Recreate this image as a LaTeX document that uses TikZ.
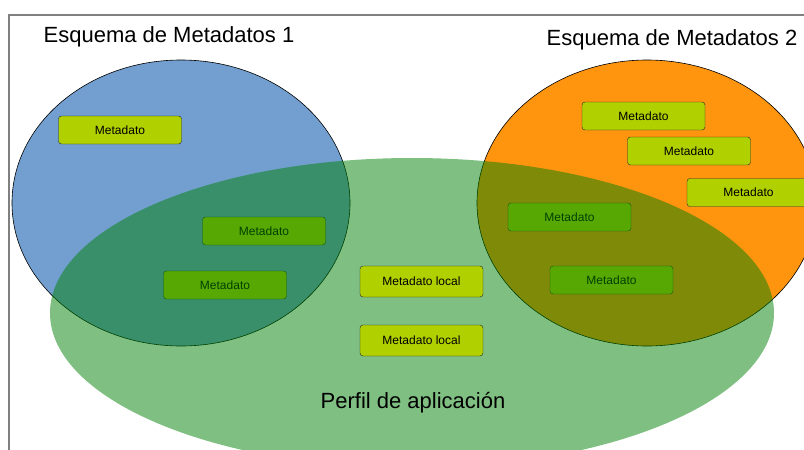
\documentclass[tikz,border=0pt]{standalone}
\usepackage{fontspec}
\setmainfont{Liberation Sans}
\usepackage{tikz}
\definecolor{schemablue}{RGB}{114,159,207}
\definecolor{schemaorange}{RGB}{255,149,14}
\definecolor{profilegreen}{RGB}{0,129,5}
\definecolor{metalime}{RGB}{176,208,0}
\tikzset{
	metabox/.style={draw=black!85, fill=metalime, rounded corners=3pt, minimum width=123pt, minimum height=28pt, inner sep=0pt, font=\fontsize{12}{14}\selectfont},
	bigtitle/.style={font=\fontsize{22}{26}\selectfont, inner sep=0pt}
}

\begin{document}
\begin{tikzpicture}[x=1pt, y=-1pt]
			%%%%% START %%%%%
			
			\useasboundingbox (0, 0) rectangle (804, 450);
			\clip (0, 0) rectangle (804, 450);
			
			\draw[gray, line width=2pt] (9, 450) -- (9, 15) -- (804, 15);
			
			% esquemas
			\draw[fill=schemablue, line width=0.6pt] (181, 203) ellipse [x radius=169pt, y radius=143pt];
			\draw[fill=schemaorange, line width=0.6pt] (647, 203) ellipse [x radius=170pt, y radius=143pt];
			
			\node[metabox] (metaA) at (120, 130) {Metadato};
			\node[metabox] (metaB) at (264, 231) {Metadato};
			\node[metabox] (metaC) at (225, 285) {Metadato};
			
			\node[metabox] (metaD) at (643.5, 116) {Metadato};
			\node[metabox] (metaE) at (689, 151) {Metadato};
			\node[metabox] (metaF) at (748.5, 192.5) {Metadato};
			\node[metabox] (metaG) at (569.5, 217) {Metadato};
			\node[metabox] (metaH) at (611.5, 280) {Metadato};
			
			% perfil
			\fill[profilegreen, fill opacity=0.5] (412, 313) ellipse [x radius=362pt, y radius=155pt];
			
			\node[metabox, minimum height=31pt] (localA) at (421.5, 281.5) {Metadato local};
			\node[metabox, minimum height=31pt] (localB) at (421.5, 340.5) {Metadato local};
			
			\node[bigtitle] (titleA) at (169, 37) {Esquema de Metadatos 1};
			\node[bigtitle] (titleB) at (672, 40) {Esquema de Metadatos 2};
			\node[bigtitle] (profile) at (413, 403) {Perfil de aplicación};
			
			%%%%% END %%%%%
\end{tikzpicture}
\end{document}
